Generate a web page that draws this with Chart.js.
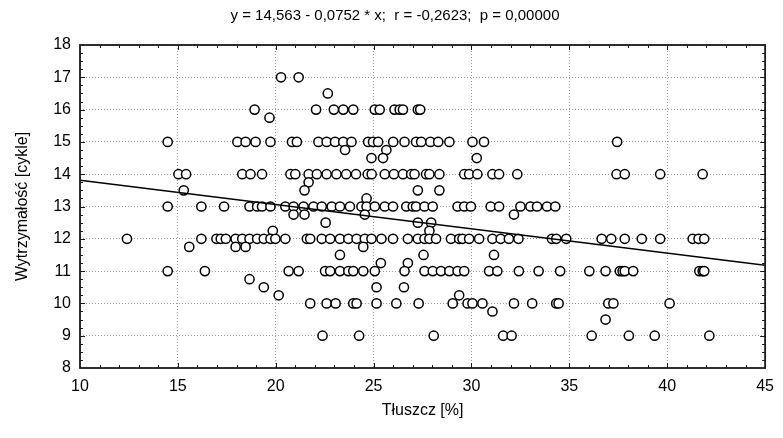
<!DOCTYPE html>
<html>
<head>
<meta charset="utf-8">
<script src="https://cdn.jsdelivr.net/npm/chart.js@4.4.1/dist/chart.umd.min.js"></script>
<style>
  html, body { margin: 0; padding: 0; background: #ffffff; }
  #wrap { width: 783px; height: 438px; }
</style>
</head>
<body>
<div id="wrap"><canvas id="c" width="783" height="438"></canvas></div>
<script>
// ---- Data: fat [%] values grouped by strength [cycles] level ----
const fatAt17   = [20.27, 21.17];
const fatAt16_5 = [22.66];
const fatAt16   = [18.92, 22.06, 22.97, 23.45, 23.96, 25.06, 25.31, 26.07, 26.33, 26.5, 27.26, 27.38];
const fatAt15_75 = [19.68];
const fatAt15   = [14.48, 18.04, 18.46, 18.97, 19.73, 20.83, 21.08, 22.18, 22.6, 23.03, 23.45, 23.87,
                   24.72, 24.97, 25.23, 26.0, 26.58, 27.17, 27.43, 27.9, 28.3, 28.87, 30.05, 30.64, 37.44];
const fatAt14_75 = [23.54, 25.65];
const fatAt14_5 = [24.89, 25.48, 30.27];
const fatAt14   = [15.03, 15.42, 18.29, 18.71, 19.3, 20.75, 21.0, 21.68, 22.1, 22.6, 23.1, 23.6, 24.1,
                   24.7, 24.9, 25.57, 26.04, 26.5, 26.92, 27.09, 27.68, 27.85, 28.36, 29.63, 29.88,
                   30.3, 31.07, 31.41, 32.34, 37.41, 37.83, 39.64, 41.81];
const fatAt13_75 = [21.68];
const fatAt13_5 = [15.3, 21.47, 27.26, 28.36];
const fatAt13_25 = [24.64];
const fatAt13   = [14.48, 16.2, 17.36, 18.66, 19.05, 19.3, 19.73, 20.49, 20.91, 21.42, 21.93, 22.35,
                   22.86, 23.28, 23.79, 24.38, 24.64, 25.06, 25.57, 25.99, 26.67, 27.0, 27.17, 27.6,
                   28.02, 29.29, 29.63, 29.97, 30.98, 31.41, 32.5, 33.01, 33.35, 33.86, 34.28];
const fatAt12_75 = [20.91, 21.47, 24.55, 32.17];
const fatAt12_5 = [22.55, 27.26, 27.94];
const fatAt12_25 = [19.85, 27.85];
const fatAt12   = [12.4, 16.2, 16.97, 17.19, 17.45, 17.95, 18.29, 18.66, 19.05, 19.39, 19.73, 19.98,
                   20.49, 21.59, 21.76, 22.35, 22.78, 23.28, 23.71, 24.13, 24.55, 24.89, 25.4, 25.99,
                   26.75, 27.26, 27.6, 27.85, 28.19, 28.95, 29.37, 29.54, 29.88, 30.39, 31.07, 31.49,
                   31.91, 32.4, 34.11, 34.33, 34.84, 36.65, 37.14, 37.83, 38.7, 39.64, 41.3, 41.6, 41.89];
const fatAt11_75 = [15.58, 17.95, 18.46, 24.47];
const fatAt11_5 = [23.28, 27.55, 31.15];
const fatAt11_25 = [25.37, 26.75];
const fatAt11   = [14.48, 16.38, 20.66, 21.17, 22.52, 22.78, 23.28, 23.71, 23.96, 24.47, 25.06, 26.58,
                   27.6, 28.02, 28.44, 28.87, 29.29, 29.63, 30.9, 31.32, 32.42, 33.43, 34.53, 36.02,
                   36.85, 37.58, 37.72, 37.83, 38.26, 41.64, 41.81, 41.89];
const fatAt10_75 = [18.66];
const fatAt10_5 = [19.39, 25.15, 26.55];
const fatAt10_25 = [20.15, 29.37];
const fatAt10   = [21.76, 22.6, 23.06, 23.96, 24.13, 25.15, 26.16, 27.3, 29.04, 29.8, 30.05, 30.56,
                   32.17, 33.1, 34.33, 34.45, 36.99, 37.25, 40.12];
const fatAt9_75 = [31.07];
const fatAt9_5  = [36.85];
const fatAt9    = [22.39, 24.26, 28.07, 31.62, 32.05, 36.14, 38.04, 39.36, 42.15];

const levels = [
  [17, fatAt17], [16.5, fatAt16_5], [16, fatAt16], [15.75, fatAt15_75], [15, fatAt15],
  [14.75, fatAt14_75], [14.5, fatAt14_5], [14, fatAt14], [13.75, fatAt13_75], [13.5, fatAt13_5],
  [13.25, fatAt13_25], [13, fatAt13], [12.75, fatAt12_75], [12.5, fatAt12_5], [12.25, fatAt12_25],
  [12, fatAt12], [11.75, fatAt11_75], [11.5, fatAt11_5], [11.25, fatAt11_25], [11, fatAt11],
  [10.75, fatAt10_75], [10.5, fatAt10_5], [10.25, fatAt10_25], [10, fatAt10], [9.75, fatAt9_75],
  [9.5, fatAt9_5], [9, fatAt9]
];

// regression from the title: y = 14.563 - 0.0752 * x
const intercept = 14.563;
const slope = -0.0752;
const xRange = [10, 45];
const yRange = [8, 18];

const titleText = 'y = 14,563 - 0,0752 * x;  r = -0,2623;  p = 0,00000';
const xTitle = 'Tłuszcz [%]';
const yTitle = 'Wytrzymałość [cykle]';

const points = [];
levels.forEach(([yv, xs]) => xs.forEach(xv => points.push({ x: xv, y: yv })));
const fitLine = xRange.map(xv => ({ x: xv, y: intercept + slope * xv }));

const FONT = '"Liberation Sans", Arial, sans-serif';

const framePlugin = {
  id: 'frame',
  afterDraw(chart) {
    const { ctx, chartArea: a, scales: { x, y } } = chart;
    ctx.save();
    // title text
    ctx.fillStyle = '#000000';
    ctx.font = '15px ' + FONT;
    ctx.textAlign = 'center';
    ctx.textBaseline = 'middle';
    ctx.fillText(titleText, 395, 16);

    ctx.strokeStyle = '#1a1a1a';
    ctx.lineWidth = 1;
    // inward minor/major ticks
    ctx.beginPath();
    for (let v = xRange[0] + 1; v < xRange[1]; v += 1) {
      const px = Math.round(x.getPixelForValue(v)) + 0.5;
      const len = (v % 5 === 0) ? 5 : 3;
      ctx.moveTo(px, a.bottom); ctx.lineTo(px, a.bottom - len);
      ctx.moveTo(px, a.top); ctx.lineTo(px, a.top + len);
    }
    for (let v = yRange[0] + 0.25; v < yRange[1]; v += 0.25) {
      const py = Math.round(y.getPixelForValue(v)) + 0.5;
      const len = (Math.abs(v - Math.round(v)) < 1e-6) ? 5 : 3;
      ctx.moveTo(a.left, py); ctx.lineTo(a.left + len, py);
      ctx.moveTo(a.right, py); ctx.lineTo(a.right - len, py);
    }
    ctx.stroke();
    ctx.lineWidth = 1.8;
    ctx.strokeRect(a.left, a.top, a.right - a.left, a.bottom - a.top);
    ctx.restore();
  }
};

new Chart(document.getElementById('c'), {
  type: 'scatter',
  data: {
    datasets: [
      {
        type: 'line',
        data: fitLine,
        borderColor: '#000000',
        borderWidth: 1.4,
        pointRadius: 0,
        fill: false,
        order: 0
      },
      {
        data: points,
        pointRadius: 4.6,
        pointBorderWidth: 1.5,
        pointBorderColor: '#000000',
        pointBackgroundColor: '#ffffff',
        pointHoverRadius: 4.6,
        order: 1
      }
    ]
  },
  plugins: [framePlugin],
  options: {
    responsive: false,
    animation: false,
    events: [],
    layout: { padding: { left: 0, right: 14, top: 45, bottom: 0 } },
    plugins: {
      legend: { display: false },
      tooltip: { enabled: false },
      title: { display: false }
    },
    scales: {
      x: {
        type: 'linear',
        min: xRange[0], max: xRange[1],
        afterFit(s) { s.height = 70; },
        ticks: { stepSize: 5, color: '#000000', padding: 9, font: { family: FONT, size: 16 } },
        grid: { color: '#9a9a9a', lineWidth: 1, drawTicks: false },
        border: { display: false, dash: [1, 2] },
        title: {
          display: true, text: xTitle, color: '#000000',
          font: { family: FONT, size: 16 }, padding: { top: 0, bottom: 18 }
        }
      },
      y: {
        type: 'linear',
        min: yRange[0], max: yRange[1],
        afterFit(s) { s.width = 80; },
        ticks: { stepSize: 1, color: '#000000', padding: 9, font: { family: FONT, size: 16 } },
        grid: { color: '#9a9a9a', lineWidth: 1, drawTicks: false },
        border: { display: false, dash: [1, 2] },
        title: {
          display: true, text: yTitle, color: '#000000',
          font: { family: FONT, size: 16 }, padding: { top: 13, bottom: 0 }
        }
      }
    }
  }
});
</script>
</body>
</html>
